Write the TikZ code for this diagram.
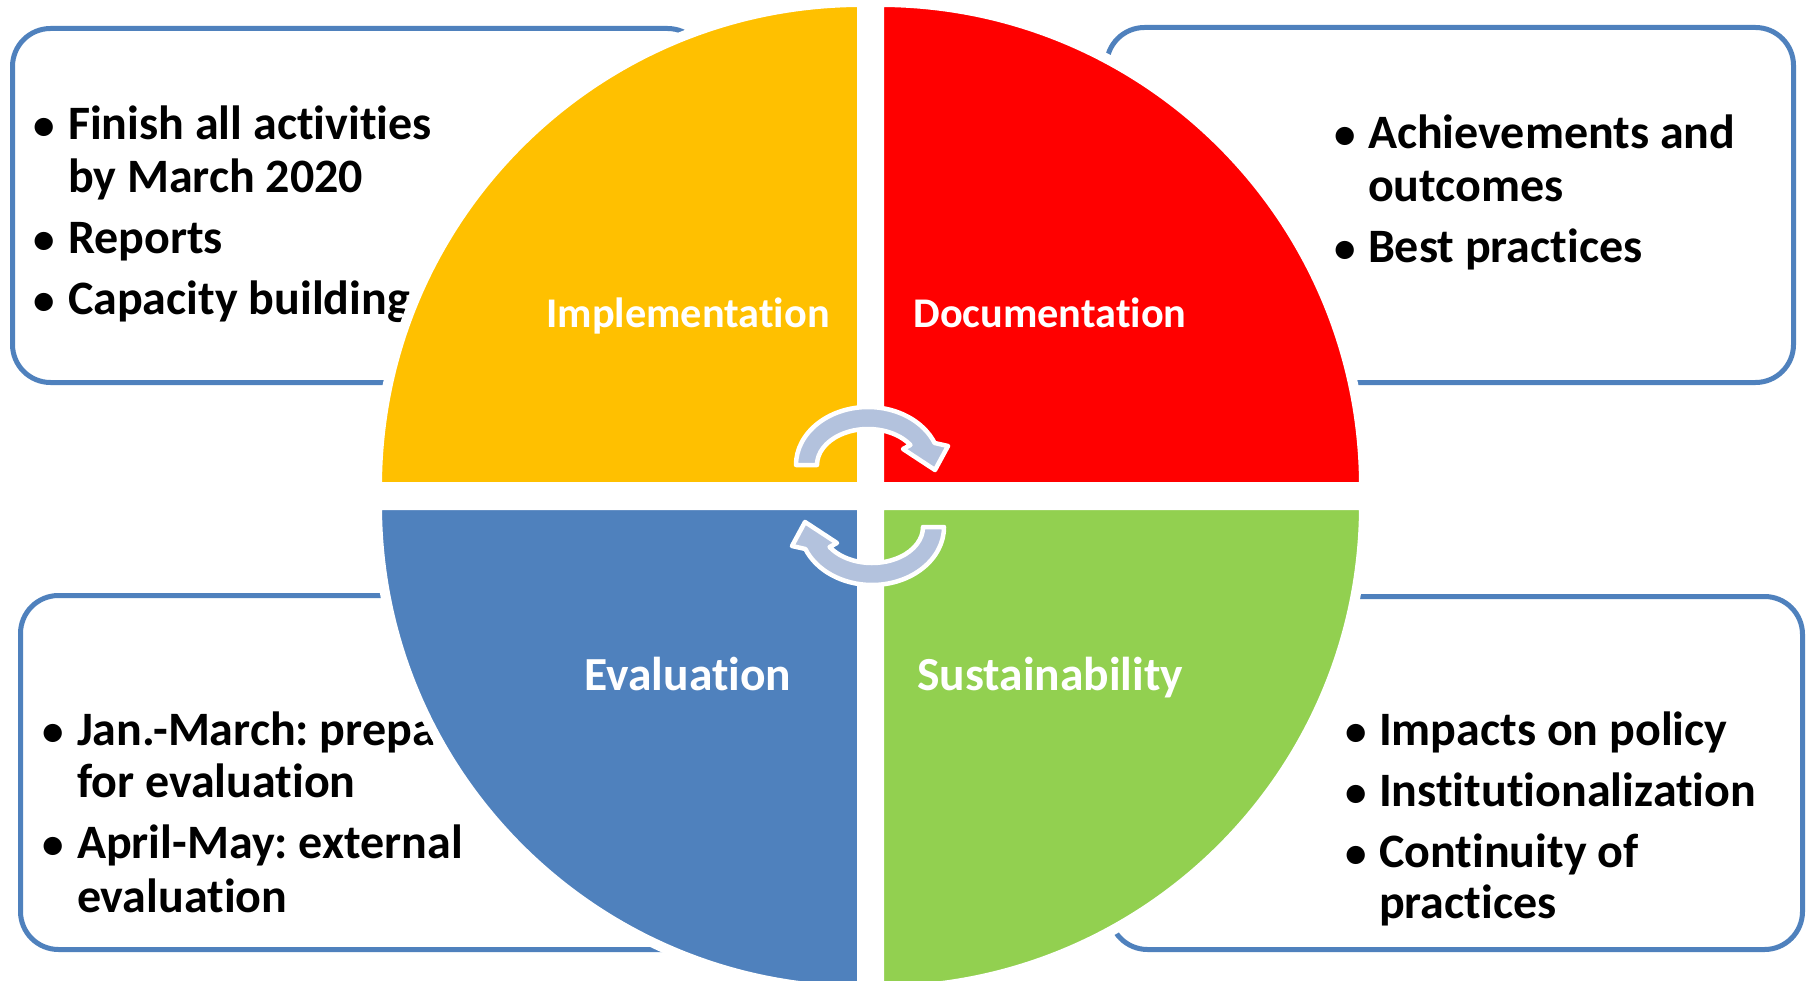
\documentclass[tikz,border=0pt]{standalone}
\usepackage{fontspec}
\setmainfont{Carlito}[Ligatures={NoCommon,NoContextual}]
\frenchspacing
\definecolor{boxblue}{HTML}{4F81BD}
\definecolor{qyellow}{HTML}{FFC000}
\definecolor{qred}{HTML}{FF0000}
\definecolor{qblue}{HTML}{4F81BD}
\definecolor{qgreen}{HTML}{92D050}
\definecolor{arrowgray}{HTML}{B3C2DD}
\tikzset{
  infobox/.style={draw=boxblue, line width=5pt, rounded corners=38pt, fill=white, anchor=north west, inner sep=0pt},
  txt/.style={inner sep=0pt, outer sep=0pt, anchor=base west, font=\fontsize{48pt}{56pt}\selectfont\bfseries},
  bul/.style={inner sep=0pt, outer sep=0pt, anchor=base, font=\fontsize{43pt}{56pt}\selectfont\bfseries},
  lbl/.style={inner sep=0pt, outer sep=0pt, anchor=base, text=white, font=\fontsize{42.3pt}{50pt}\selectfont\bfseries},
  lblb/.style={lbl, font=\fontsize{47.5pt}{56pt}\selectfont\bfseries},
  quad/.style={draw=white, line width=10pt},
  cyc/.style={fill=arrowgray, draw=white, line width=4.5pt, line join=round}
}
\begin{document}
\begin{tikzpicture}[x=1pt,y=-1pt]
\clip (0,0) rectangle (1806,981);
\fill[white] (0,0) rectangle (1806,981);
% boxes
\node[infobox, minimum width=693pt, minimum height=354pt] (tl) at (10,26) {};
\node[infobox, minimum width=687pt, minimum height=355pt] (tr) at (1104,25) {};
\node[infobox, minimum width=690pt, minimum height=354pt] (bl) at (18,593) {};
\node[infobox, minimum width=693pt, minimum height=353pt] (br) at (1107,594) {};
% top-left text
\node[bul] (tlb1) at (44,140) {•};
\node[txt] (tl1) at (68,140) {Finish all activities};
\node[txt] (tl2) at (68,193) {by March 2020};
\node[bul] (tlb2) at (44,254) {•};
\node[txt] (tl3) at (68,254) {Reports};
\node[bul] (tlb3) at (44,315) {•};
\node[txt] (tl4) at (68,315) {Capacity building};
% top-right text
\node[bul] (trb1) at (1345,149) {•};
\node[txt] (tr1) at (1368,149) {Achievements and};
\node[txt] (tr2) at (1368,202) {outcomes};
\node[bul] (trb2) at (1345,263) {•};
\node[txt] (tr3) at (1368,263) {Best practices};
% bottom-left text
\node[bul] (blb1) at (53,745) {•};
\node[txt] (bl1) at (77,745) {Jan.-March: preparation};
\node[txt] (bl2) at (77,797) {for evaluation};
\node[bul] (blb2) at (53,858) {•};
\node[txt] (bl3) at (77,858) {April-May: external};
\node[txt] (bl4) at (77,912) {evaluation};
% bottom-right text
\node[bul] (brb1) at (1356,745) {•};
\node[txt] (br1) at (1379,745) {Impacts on policy};
\node[bul] (brb2) at (1356,806) {•};
\node[txt] (br2) at (1379,806) {Institutionalization};
\node[bul] (brb3) at (1356,867) {•};
\node[txt] (br3) at (1379,867) {Continuity of};
\node[txt] (br4) at (1379,918) {practices};
% quadrants
\filldraw[quad, fill=qyellow] (862,487) -- ++(-485,0) arc[start angle=180, end angle=270, radius=485] -- cycle;
\filldraw[quad, fill=qred] (879,487) -- ++(0,-485) arc[start angle=270, end angle=360, radius=485] -- cycle;
\filldraw[quad, fill=qblue] (862,505) -- ++(0,485) arc[start angle=90, end angle=180, radius=485] -- cycle;
\filldraw[quad, fill=qgreen] (879,505) -- ++(485,0) arc[start angle=0, end angle=90, radius=485] -- cycle;
% labels
\node[lbl] (impl) at (688,328) {Implementation};
\node[lbl] (doc) at (1050,328) {Documentation};
\node[lblb] (eval) at (688,690) {Evaluation};
\node[lblb] (sust) at (1050,690) {Sustainability};
% cycle arrows
\filldraw[cyc] (796,465) arc[start angle=180, end angle=337.7, x radius=72, y radius=58]
  -- (948,446) -- (935,470) -- (903,449) -- (910.4,445)
  arc[start angle=326.25, end angle=180, x radius=51, y radius=36] -- cycle;
\begin{scope}[rotate around={180:(870,496)}]
\filldraw[cyc] (796,465) arc[start angle=180, end angle=337.7, x radius=72, y radius=58]
  -- (948,446) -- (935,470) -- (903,449) -- (910.4,445)
  arc[start angle=326.25, end angle=180, x radius=51, y radius=36] -- cycle;
\end{scope}
\end{tikzpicture}
\end{document}
